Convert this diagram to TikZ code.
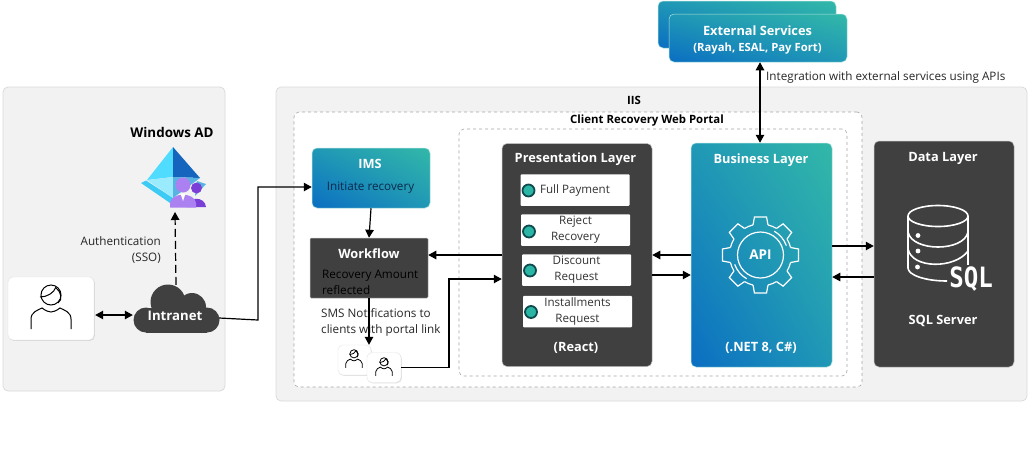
\documentclass[tikz,border=0pt]{standalone}
\usepackage{xcolor}
\usepackage{fontspec}
\setmainfont{Open Sans}
\usetikzlibrary{arrows.meta,shadows,shadings}

\definecolor{panelgray}{HTML}{F2F2F2}
\definecolor{paneledge}{HTML}{D9D9D9}
\definecolor{darkbox}{HTML}{404040}
\definecolor{gradblue}{HTML}{0A6EC2}
\definecolor{gradmid}{HTML}{2098B6}
\definecolor{gradteal}{HTML}{32B8A8}
\definecolor{dotteal}{HTML}{2BB5A4}
\definecolor{dotedge}{HTML}{0F4A4E}
\definecolor{adcyan}{HTML}{4FDCFF}
\definecolor{adnavy}{HTML}{1565BF}
\definecolor{adpale}{HTML}{9BEBFF}
\definecolor{admid}{HTML}{58B2E2}
\definecolor{adstrip}{HTML}{3CCBF4}
\definecolor{adpurple}{HTML}{AB80F0}
\definecolor{addeep}{HTML}{7A3FD6}
\definecolor{navytext}{HTML}{0B2A4A}

\tikzset{
    panel/.style={draw=paneledge, fill=panelgray, rounded corners=5pt, line width=0.7pt, inner sep=0pt},
    dashpanel/.style={draw=black!35, fill=white, dashed, rounded corners=5pt, line width=0.6pt, inner sep=0pt},
    darklayer/.style={fill=darkbox, draw=black!25, rounded corners=5pt, line width=0.5pt, inner sep=0pt},
    gradlayer/.style={shade, lower left=gradblue, upper right=gradteal, upper left=gradmid, lower right=gradmid,
        draw=gradteal!40, rounded corners=5pt, line width=0.5pt, inner sep=0pt},
    itembox/.style={fill=white, rounded corners=1pt, minimum width=109pt, minimum height=31.5pt, inner sep=0pt,
        align=center, font=\fontsize{11.6}{16}\selectfont, text=black!80},
    itemdot/.style={circle, fill=dotteal, draw=dotedge, line width=1.8pt, minimum size=12pt, inner sep=0pt},
    userbox/.style={fill=white, draw=black!10, rounded corners=5pt, inner sep=0pt,
        drop shadow={opacity=0.25, shadow xshift=0.8pt, shadow yshift=-0.8pt}},
    title/.style={font=\fontsize{12.8}{14}\selectfont\bfseries, text=white, inner sep=0pt},
    blacktitle/.style={font=\fontsize{11.4}{14}\selectfont\bfseries, text=black, inner sep=0pt},
    plain/.style={font=\fontsize{11.7}{16}\selectfont, text=black!85, inner sep=0pt},
    arrowline/.style={line width=1.2pt, >={Triangle[length=8pt,width=8.5pt]}},
    pics/personicon/.style={code={
        \draw[line width=#1] (0,-20) circle[radius=10];
        \draw[line width=#1] (-11,-18) .. controls (-4,-18) and (3,-22) .. (5,-28);
        \draw[line width=#1] (5,-27) .. controls (10,-24) and (12,-15) .. (7,-12);
        \draw[line width=#1] (-20,14) -- (-20,4) .. controls (-20,-3) and (-13,-5) .. (-9,-7)
            .. controls (-5,-4) and (-2,-3) .. (0,-3) .. controls (2,-3) and (5,-4) .. (9,-7)
            .. controls (13,-5) and (20,-3) .. (20,4) -- (20,14);
    }},
}

\begin{document}
\begin{tikzpicture}[x=1pt, y=-1pt, line cap=butt]
    \useasboundingbox (0,0) rectangle (1033,459);

    % Panels
    \node[panel, minimum width=222pt, minimum height=304pt] (adpanel) at (114,239) {};
    \node[panel, minimum width=751pt, minimum height=314pt] (iis) at (651.5,244) {};
    \node[blacktitle] (iistitle) at (634,100.5) {IIS};
    \node[dashpanel, minimum width=568pt, minimum height=275pt] (portal) at (578,249.5) {};
    \node[blacktitle] (portaltitle) at (647,120.5) {Client Recovery Web Portal};
    \node[dashpanel, minimum width=388pt, minimum height=247pt] (inner) at (653,252.5) {};

    % External services
    \node[gradlayer, minimum width=178pt, minimum height=47pt] (extback) at (747,24.5) {};
    \node[gradlayer, minimum width=178pt, minimum height=48pt] (external) at (758,38) {};
    \node[title] (exttitle) at (757.5,31) {External Services};
    \node[title, font=\fontsize{11.3}{12}\selectfont\bfseries] (extsub) at (757.5,49) {(Rayah, ESAL, Pay Fort)};
    \node[plain, anchor=west] (extlabel) at (766,77) {Integration with external services using APIs};

    % User and intranet
    \node[userbox, minimum width=86pt, minimum height=63pt] (user) at (51,308.5) {};
    \pic at (51,315) {personicon=1pt};
    \fill[darkbox] (168,302) circle[radius=17.5] (192,307) circle[radius=14]
        (146,320) circle[radius=12.5] (207,320) circle[radius=12.5];
    \fill[darkbox] (146,307.5) rectangle (207,332.5);
    \node[minimum width=86pt, minimum height=48pt, inner sep=0pt] (intranet) at (176,309) {};
    \node[title, font=\fontsize{13.2}{14}\selectfont\bfseries] (intranettext) at (175,316) {Intranet};

    % Windows AD
    \node[font=\fontsize{13.4}{14}\selectfont\bfseries, inner sep=0pt] (adtitle) at (172,132) {Windows AD};
    \fill[adstrip] (141,183) -- (146,180.5) -- (173,198) -- (173,205) -- cycle;
    \fill[admid] (197,181) -- (206,184) -- (195,196) -- cycle;
    \fill[adcyan] (173,147) -- (147,180) -- (173,177) -- cycle;
    \fill[adnavy] (173,147) -- (200,178) -- (173,177) -- cycle;
    \fill[adpale] (147,180) -- (173,177) -- (173,198) -- cycle;
    \fill[admid] (173,177) -- (200,178) -- (173,198) -- cycle;
    \fill[addeep] (196.5,188) circle[radius=5.5];
    \fill[addeep] (186,207) .. controls (188,196) and (205,196) .. (206,207) -- cycle;
    \fill[adpurple] (183,185) circle[radius=7.5];
    \fill[adpurple] (170,207.5) -- (170,203) .. controls (171,192) and (195,192) .. (196,203) -- (196,207.5) -- cycle;
    \fill[white] (180.5,193.5) -- (185.5,193.5) -- (183,201) -- cycle;
    \node[plain, align=right, anchor=north east] (authlabel) at (161,236) {Authentication\\(SSO)};

    % IMS and workflow
    \node[gradlayer, minimum width=118pt, minimum height=60pt] (ims) at (371,178) {};
    \node[title] (imstitle) at (370,163.5) {IMS};
    \node[plain, text=navytext] (imstext) at (370.5,187.5) {Initiate recovery};
    \node[darklayer, rounded corners=1pt, minimum width=118pt, minimum height=60pt] (workflow) at (369,268) {};
    \node[title] (workflowtitle) at (369,253.5) {Workflow};
    \node[plain, align=left, anchor=north west, text=black] (workflowtext) at (322,270) {Recovery Amount\\reflected};
    \node[plain, align=left, anchor=north west] (smslabel) at (321,308) {SMS Notifications to\\clients with portal link};

    % Clients
    \node[userbox, minimum width=33pt, minimum height=30pt] (clienta) at (354.5,360) {};
    \pic[scale=0.41] at (354,362) {personicon=0.8pt};
    \node[userbox, minimum width=34pt, minimum height=30pt] (clientb) at (384,367.5) {};
    \pic[scale=0.41] at (384,370) {personicon=0.8pt};

    % Presentation layer
    \node[darklayer, minimum width=150pt, minimum height=223pt] (presentation) at (577,255) {};
    \node[title] (presentationtitle) at (575.5,159.5) {Presentation Layer};
    \node[itembox] (fullpay) at (575,190) {Full Payment};
    \node[itembox] (reject) at (575.5,230) {Reject\\Recovery};
    \node[itembox] (discount) at (576.5,270) {Discount\\Request};
    \node[itembox] (install) at (577.5,311.5) {Installments\\Request};
    \node[itemdot] (fulldot) at (528.5,190.5) {};
    \node[itemdot] (rejectdot) at (529,231.5) {};
    \node[itemdot] (discountdot) at (530,270.5) {};
    \node[itemdot] (installdot) at (531,312) {};
    \node[title] (reacttext) at (576,347.5) {(React)};

    % Business layer
    \node[gradlayer, minimum width=141pt, minimum height=224pt] (business) at (761.5,255) {};
    \node[title] (businesstitle) at (761,160.5) {Business Layer};
    \node[title] (nettext) at (761,347.5) {(.NET 8, C\#)};
    \begin{scope}[shift={(760.5,255)}, x=1pt, y=1pt, white, line width=1.2pt]
        \draw (0,0) circle[radius=23];
        \foreach \a in {90,135,...,405} {
            \draw (\a+14:31) -- (\a+9:38.5) -- (\a-9:38.5) -- (\a-14:31);
            \draw (\a+14:31) arc[start angle=\a+14, end angle=\a+31, radius=31];
        }
        \draw (60:27.5) arc[start angle=60, end angle=20, radius=27.5];
        \draw (240:27.5) arc[start angle=240, end angle=200, radius=27.5];
    \end{scope}
    \node[title, font=\fontsize{13.5}{14}\selectfont\bfseries] (apitext) at (760.5,255) {API};

    % Data layer
    \node[darklayer, minimum width=140pt, minimum height=226pt] (data) at (944,254) {};
    \node[title] (datatitle) at (943,158.5) {Data Layer};
    \node[title] (sqltext) at (943,320.5) {SQL Server};
    \begin{scope}[white, line width=1.6pt]
        \draw (938,216) ellipse[x radius=30, y radius=10.5];
        \draw (908,216) -- (908,268) .. controls (908,275) and (925,281) .. (947,281);
        \draw (968,216) -- (968,265);
        \draw (908,232) .. controls (912,252) and (964,252) .. (968,232);
        \draw (908,249) .. controls (912,269) and (955,269) .. (968,251);
        \fill (918,235.5) circle[radius=2.4] (918,251) circle[radius=2.4] (917.5,267) circle[radius=2.4];
    \end{scope}
    \node[text=white, inner sep=0pt, xscale=0.86, font=\fontsize{28}{30}\selectfont] (sqlicon) at (971,279) {\fontspec{DejaVu Sans Mono}\bfseries SQL};

    % Connectors
    \begin{scope}[arrowline]
        \draw[<->] (user.east) ++(1,6.5) -- (intranet.west |- 0,315);
        \draw[->, dashed, dash pattern=on 8pt off 4pt] (intranet.north) -- (175,212);
        \draw[->] (intranet.east |- 0,318) -- (258,320) -- (258,187) -- (ims.west |- 0,187);
        \draw[->] (ims.south) -- (workflow.north);
        \draw[->] (workflow.south) -- (clienta.north -| workflow.south);
        \draw[->] (presentation.west) -- (workflow.east |- presentation.west);
        \draw[->] (clientb.east) -- (449,367.5) -- (449,279) -- ([yshift=-24pt]presentation.west);
        \draw[->] (business.west) -- (presentation.east);
        \draw[->] ([yshift=-20pt]presentation.east) -- ([yshift=-20pt]business.west);
        \draw[->] ([yshift=9pt]business.east) -- ([yshift=8pt]data.west);
        \draw[->] ([yshift=-23pt]data.west) -- ([yshift=-22pt]business.east);
        \draw[<->] (external.south -| 760,0) -- (business.north -| 760,0);
    \end{scope}
\end{tikzpicture}
\end{document}
